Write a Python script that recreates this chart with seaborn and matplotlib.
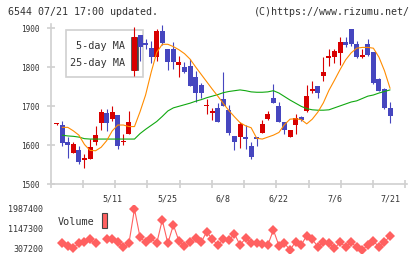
import numpy as np
import pandas as pd
import matplotlib
matplotlib.use("Agg")
import matplotlib.pyplot as plt
from matplotlib.patches import Rectangle
import seaborn as sns

# ---------------- data ----------------
opens = [1654, 1652, 1608, 1581, 1588, 1563, 1566, 1608, 1658, 1684,
         1667, 1678, 1608, 1630, 1791, 1882, 1862, 1849, 1826, 1893,
         1846, 1846, 1805, 1800, 1803, 1774, 1755, 1700, 1683, 1695,
         1719, 1690, 1624, 1620, 1622, 1598, 1620, 1631, 1667, 1721,
         1701, 1660, 1621, 1651, 1672, 1688, 1740, 1752, 1778, 1825,
         1826, 1837, 1865, 1897, 1861, 1826, 1860, 1838, 1769, 1744,
         1695]
highs = [1656, 1662, 1620, 1609, 1598, 1577, 1616, 1650, 1692, 1692,
         1700, 1678, 1630, 1688, 1903, 1883, 1872, 1867, 1898, 1908,
         1846, 1866, 1830, 1814, 1820, 1790, 1760, 1718, 1695, 1708,
         1789, 1703, 1624, 1659, 1652, 1608, 1620, 1664, 1688, 1757,
         1710, 1660, 1639, 1680, 1675, 1755, 1766, 1752, 1827, 1848,
         1848, 1878, 1878, 1897, 1868, 1848, 1873, 1838, 1772, 1747,
         1712]
lows = [1653, 1597, 1568, 1579, 1553, 1543, 1566, 1602, 1639, 1636,
        1662, 1590, 1600, 1628, 1778, 1817, 1846, 1810, 1817, 1858,
        1792, 1795, 1775, 1785, 1753, 1712, 1720, 1680, 1664, 1660,
        1702, 1627, 1589, 1592, 1591, 1565, 1597, 1631, 1665, 1708,
        1661, 1630, 1621, 1630, 1663, 1686, 1734, 1720, 1765, 1803,
        1810, 1805, 1852, 1854, 1823, 1823, 1828, 1757, 1738, 1693,
        1656]
closes = [1655, 1606, 1602, 1603, 1558, 1565, 1596, 1626, 1685, 1658,
          1685, 1598, 1610, 1660, 1877, 1853, 1858, 1827, 1893, 1863,
          1814, 1814, 1814, 1787, 1753, 1733, 1733, 1702, 1685, 1661,
          1702, 1631, 1609, 1654, 1617, 1571, 1617, 1654, 1680, 1708,
          1661, 1639, 1639, 1669, 1665, 1726, 1742, 1735, 1789, 1827,
          1842, 1866, 1856, 1861, 1827, 1832, 1831, 1760, 1740, 1695,
          1676]
ma5 = [np.nan, 1646, 1646, 1637, 1626, 1602, 1587, 1586, 1595, 1612,
       1637, 1652, 1652, 1648, 1648, 1686, 1729, 1787, 1838, 1859,
       1859, 1853, 1845, 1835, 1821, 1801, 1782, 1763, 1744, 1726,
       1707, 1689, 1673, 1658, 1650, 1645, 1618, 1616, 1621, 1626,
       1633, 1653, 1667, 1668, 1666, 1655, 1667, 1685, 1709, 1741,
       1767, 1794, 1819, 1837, 1849, 1851, 1851, 1849, 1826, 1791,
       1746]
ma25 = [np.nan, 1626, 1624, 1623, 1621, 1617, 1616, 1616, 1616, 1616,
        1616, 1616, 1616, 1616, 1616, 1630, 1641, 1651, 1661, 1674,
        1688, 1696, 1700, 1704, 1708, 1713, 1717, 1722, 1726, 1730,
        1735, 1738, 1740, 1742, 1740, 1737, 1736, 1736, 1737, 1740,
        1734, 1725, 1716, 1708, 1700, 1694, 1691, 1690, 1690, 1691,
        1696, 1701, 1706, 1711, 1714, 1720, 1726, 1729, 1734, 1738,
        1742]
volume = [np.nan, 547000, 433000, 336000, 572000, 614000, 715000, 547000, np.nan, 715000,
          715000, 614000, 378000, 547000, 1987400, 799000, 589000, 757000, 547000, 1525000,
          547000, 1315000, 643000, 446000, 589000, 757000, 589000, 1034000, 715000, 475000,
          715000, 685000, 937000, 475000, 757000, 572000, 547000, 517000, 475000, 1105000,
          446000, 547000, 265000, 614000, 475000, 866000, 715000, 404000, 589000, 572000,
          336000, 589000, 404000, 589000, 378000, 265000, 475000, 656000, 378000, 589000,
          866000]
date_labels = ["5/11", "5/25", "6/8", "6/22", "7/6", "7/21"]
date_label_idx = [10, 20, 30, 40, 50, 60]
price_ticks = [1500, 1600, 1700, 1800, 1900]
vol_ticks = [307200, 1147300, 1987400]
vol_tick_labels = ["307200", "1147300", "1987400"]

# ---------------- style ----------------
sns.set_style("white")
plt.rcParams['font.family'] = ['DejaVu Sans Mono', 'DejaVu Sans']

RED = "#d80000"
BLUE = "#4646bf"
ORANGE = "#ff8c00"
GREEN = "#10a810"
VOLC = "#ff6060"
AXC = "#d0d0d0"
TXT = "#333333"

W, H = 420, 259
fig = plt.figure(figsize=(W / 100, H / 100), dpi=100)
fig.patch.set_facecolor("white")

def frac(x0, y0, x1, y1):
    return [x0 / W, 1 - y1 / H, (x1 - x0) / W, (y1 - y0) / H]

ax = fig.add_axes(frac(50.7, 24.4, 407, 184.3))
axv = fig.add_axes(frac(50.7, 205, 407, 253))

n = len(closes)
idx = np.arange(n)
df = pd.DataFrame({"i": idx, "open": opens, "high": highs, "low": lows,
                   "close": closes, "ma5": ma5, "ma25": ma25, "vol": volume})
df["up"] = df["close"] >= df["open"]
colors = [RED if u else BLUE for u in df["up"]]

# wicks
ax.vlines(df["i"], df["low"], df["high"], colors=colors, linewidth=0.8, zorder=3)
# bodies
bottom = np.minimum(df["open"], df["close"])
height = np.maximum(np.abs(df["close"] - df["open"]), 4)
ax.bar(df["i"], height, bottom=bottom, width=0.9, color=colors, linewidth=0, zorder=4)

# moving averages
sns.lineplot(data=df, x="i", y="ma25", ax=ax, color=GREEN, linewidth=0.8, zorder=5)
sns.lineplot(data=df, x="i", y="ma5", ax=ax, color=ORANGE, linewidth=0.8, zorder=6)

ax.set_xlim(-1.08, 63.05)
ax.set_ylim(1500, 1910)
ax.set_xlabel("")
ax.set_ylabel("")
for s in ["top", "right"]:
    ax.spines[s].set_visible(False)
for s in ["left", "bottom"]:
    ax.spines[s].set_color(AXC)
    ax.spines[s].set_linewidth(1.2)

ax.set_yticks(price_ticks)
ax.set_yticklabels([str(t) for t in price_ticks])
ax.tick_params(axis="y", left=True, direction="inout", length=6, width=1.2,
               color=AXC, labelsize=5.6, labelcolor=TXT, pad=5)
ax.set_xticks(date_label_idx)
ax.set_xticklabels(date_labels)
ax.tick_params(axis="x", which="major", bottom=True, length=0, labelsize=6,
               labelcolor=TXT, pad=7.5)
x0, x1 = ax.get_xlim()
ax.set_xticks(np.arange(x0, x1 + 0.5, (62.75 - x0) / 11), minor=True)
ax.tick_params(axis="x", which="minor", bottom=True, direction="inout", length=6,
               width=1.2, color=AXC)
ax.grid(False)

# legend box
ax.add_patch(Rectangle((65.7 / W, 1 - 77.3 / H), 77 / W, 47.3 / H, transform=fig.transFigure,
                       facecolor="white", edgecolor=AXC, linewidth=1.2, zorder=1, clip_on=False))
ax.add_patch(Rectangle((130.7 / W, 1 - 70 / H), 7 / W, 33.3 / H, transform=fig.transFigure,
                       facecolor="#444444", edgecolor="#444444", linewidth=0.5, zorder=2, clip_on=False))
fig.text(125 / W, 1 - 46 / H, "5-day MA", ha="right", va="center", fontsize=7.3, color=TXT)
fig.text(125 / W, 1 - 62.7 / H, "25-day MA", ha="right", va="center", fontsize=7.3, color=TXT)

# volume panel
seg = df["vol"].isna().cumsum()
vdf = pd.DataFrame({"i": df["i"], "vol": df["vol"], "seg": seg}).dropna()
sns.lineplot(data=vdf, x="i", y="vol", units="seg", estimator=None, ax=axv, color=VOLC,
             linewidth=0.8, marker="D", markersize=4.8, markeredgewidth=0,
             markerfacecolor=VOLC)
axv.set_xlim(x0, x1)
axv.set_ylim(139180, 2155420)
axv.set_xlabel("")
axv.set_ylabel("")
for s in axv.spines.values():
    s.set_visible(False)
axv.set_xticks([])
axv.set_yticks(vol_ticks)
axv.set_yticklabels(vol_tick_labels)
axv.tick_params(axis="y", left=False, length=0, labelsize=6, labelcolor=TXT, pad=5.5)
axv.grid(False)
axv.patch.set_alpha(0)

fig.text(58 / W, 1 - 222.3 / H, "Volume", ha="left", va="center", fontsize=7.3, color=TXT)
fig.patches.append(Rectangle((101.7 / W, 1 - 228.3 / H), 5.6 / W, 15 / H, transform=fig.transFigure,
                             facecolor=VOLC, edgecolor="#444444", linewidth=0.8, figure=fig))

# header
fig.text(8 / W, 1 - 12.3 / H, "6544 07/21 17:00 updated.", ha="left", va="center",
         fontsize=7.2, color=TXT)
fig.text(410 / W, 1 - 12.3 / H, "(C)https://www.rizumu.net/", ha="right", va="center",
         fontsize=7.2, color=TXT)

fig.savefig("out.png", dpi=100, facecolor="white")
